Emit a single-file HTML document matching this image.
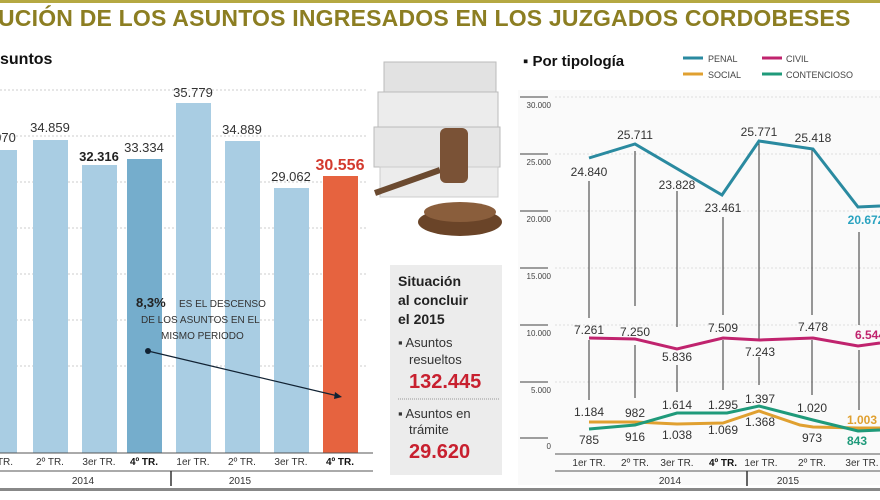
<!DOCTYPE html>
<html><head><meta charset="utf-8"><style>
body{margin:0;width:880px;height:495px;overflow:hidden;background:#fff;font-family:"Liberation Sans",sans-serif}
</style></head><body>
<svg width="880" height="495" xmlns="http://www.w3.org/2000/svg" font-family="Liberation Sans, sans-serif">
<rect x="0" y="0" width="880" height="3" fill="#b5a842"/>
<text x="-2" y="26" font-size="23" font-weight="bold" fill="#8c7e22" letter-spacing="0.2">UCIÓN DE LOS ASUNTOS INGRESADOS EN LOS JUZGADOS CORDOBESES</text>
<rect x="0" y="488" width="880" height="3" fill="#888"/>
<!-- left chart -->
<text x="0" y="64" font-size="16" font-weight="bold" fill="#111">suntos</text>
<g stroke="#ccc" stroke-dasharray="2,2" stroke-width="1">
<line x1="0" y1="90" x2="368" y2="90"/><line x1="0" y1="136" x2="368" y2="136"/><line x1="0" y1="182" x2="368" y2="182"/><line x1="0" y1="228" x2="368" y2="228"/><line x1="0" y1="274" x2="368" y2="274"/><line x1="0" y1="320" x2="368" y2="320"/><line x1="0" y1="366" x2="368" y2="366"/>
</g>
<g fill="#a9cde3">
<rect x="0" y="150" width="17" height="303"/>
<rect x="33" y="140" width="35" height="313"/>
<rect x="82" y="165" width="35" height="288"/>
<rect x="176" y="103" width="35" height="350"/>
<rect x="225" y="141" width="35" height="312"/>
<rect x="274" y="188" width="35" height="265"/>
</g>
<rect x="127" y="159" width="35" height="294" fill="#75adcc"/>
<rect x="323" y="176" width="35" height="277" fill="#e6633f"/>
<g font-size="13" fill="#333" text-anchor="middle">
<text x="5" y="142">070</text>
<text x="50" y="132">34.859</text>
<text x="99" y="161" font-weight="bold" fill="#222">32.316</text>
<text x="144" y="152">33.334</text>
<text x="193" y="97">35.779</text>
<text x="242" y="134">34.889</text>
<text x="291" y="181">29.062</text>
<text x="340" y="170" font-size="16" font-weight="bold" fill="#d33a2e">30.556</text>
</g>
<text x="136" y="307" font-size="13" font-weight="bold" fill="#222">8,3%</text>
<text x="179" y="307" font-size="10" fill="#333">ES EL DESCENSO</text>
<text x="141" y="323" font-size="10" fill="#333">DE LOS ASUNTOS EN EL</text>
<text x="161" y="339" font-size="10" fill="#333">MISMO PERIODO</text>
<circle cx="148" cy="351" r="3" fill="#123"/>
<line x1="148" y1="351" x2="338" y2="396" stroke="#123" stroke-width="1.2"/>
<polygon points="342,397 335,392 334,399" fill="#123"/>
<line x1="0" y1="453" x2="373" y2="453" stroke="#555"/>
<line x1="0" y1="471" x2="373" y2="471" stroke="#555"/>
<line x1="171" y1="471" x2="171" y2="486" stroke="#333" stroke-width="1.5"/>
<g font-size="10" fill="#333" text-anchor="middle">
<text x="5" y="465">TR.</text><text x="50" y="465">2º TR.</text><text x="99" y="465">3er TR.</text><text x="144" y="465" font-weight="bold" fill="#111">4º TR.</text>
<text x="193" y="465">1er TR.</text><text x="242" y="465">2º TR.</text><text x="291" y="465">3er TR.</text><text x="340" y="465" font-weight="bold" fill="#111">4º TR.</text>
<text x="83" y="484">2014</text><text x="240" y="484">2015</text>
</g>
<!-- image placeholder -->
<g>
<rect x="384" y="62" width="112" height="30" fill="#e2e2e2" stroke="#bbb"/>
<rect x="378" y="92" width="120" height="35" fill="#ececec" stroke="#bbb"/>
<rect x="374" y="127" width="126" height="40" fill="#e6e6e6" stroke="#bbb"/>
<rect x="380" y="167" width="118" height="30" fill="#ececec" stroke="#ccc"/>
<line x1="375" y1="193" x2="440" y2="170" stroke="#6b4a30" stroke-width="6"/>
<rect x="440" y="128" width="28" height="55" rx="6" fill="#7a5236"/>
<ellipse cx="460" cy="222" rx="42" ry="14" fill="#6a4428"/>
<ellipse cx="460" cy="212" rx="36" ry="10" fill="#8a5e3c"/>
</g>
<rect x="390" y="265" width="112" height="210" fill="#ececec"/>
<g font-size="14" font-weight="bold" fill="#222"><text x="398" y="286">Situación</text><text x="398" y="305">al concluir</text><text x="398" y="324">el 2015</text></g>
<g font-size="13" fill="#333"><text x="398" y="347">▪ Asuntos</text><text x="409" y="364">resueltos</text><text x="398" y="418">▪ Asuntos  en</text><text x="409" y="434">trámite</text></g>
<line x1="398" y1="399" x2="500" y2="399" stroke="#999" stroke-dasharray="1,1"/>
<g font-size="20" font-weight="bold" fill="#c8202f"><text x="409" y="388">132.445</text><text x="409" y="458">29.620</text></g>
<!-- right chart -->
<rect x="518" y="90" width="362" height="395" fill="#fafafa"/>
<text x="523" y="66" font-size="15" font-weight="bold" fill="#111">▪ Por tipología</text>
<g font-size="9" fill="#444">
<line x1="683" y1="58" x2="703" y2="58" stroke="#2a8aa0" stroke-width="3"/><text x="708" y="62">PENAL</text>
<line x1="762" y1="58" x2="782" y2="58" stroke="#c0236e" stroke-width="3"/><text x="786" y="62">CIVIL</text>
<line x1="683" y1="74" x2="703" y2="74" stroke="#e0a030" stroke-width="3"/><text x="708" y="78">SOCIAL</text>
<line x1="762" y1="74" x2="782" y2="74" stroke="#1f9a7a" stroke-width="3"/><text x="786" y="78">CONTENCIOSO</text>
</g>
<g font-size="8" fill="#444" text-anchor="end">
<text x="551" y="108">30.000</text><text x="551" y="165">25.000</text><text x="551" y="222">20.000</text><text x="551" y="279">15.000</text><text x="551" y="336">10.000</text><text x="551" y="393">5.000</text><text x="551" y="449">0</text>
</g>
<g stroke="#666" stroke-width="1.2">
<line x1="520" y1="97" x2="548" y2="97"/><line x1="520" y1="154" x2="548" y2="154"/><line x1="520" y1="211" x2="548" y2="211"/><line x1="520" y1="268" x2="548" y2="268"/><line x1="520" y1="325" x2="548" y2="325"/><line x1="520" y1="382" x2="548" y2="382"/><line x1="520" y1="438" x2="548" y2="438"/>
</g>
<g stroke="#ddd" stroke-dasharray="2,2">
<line x1="555" y1="97" x2="880" y2="97"/><line x1="555" y1="154" x2="880" y2="154"/><line x1="555" y1="211" x2="880" y2="211"/><line x1="555" y1="268" x2="880" y2="268"/><line x1="555" y1="325" x2="880" y2="325"/><line x1="555" y1="382" x2="880" y2="382"/>
</g>
<g stroke="#333" stroke-width="1">
<line x1="589" y1="181" x2="589" y2="318"/><line x1="589" y1="340" x2="589" y2="400"/>
<line x1="635" y1="151" x2="635" y2="306"/><line x1="635" y1="345" x2="635" y2="398"/>
<line x1="677" y1="191" x2="677" y2="327"/><line x1="677" y1="365" x2="677" y2="392"/>
<line x1="723" y1="217" x2="723" y2="315"/><line x1="723" y1="340" x2="723" y2="390"/>
<line x1="759" y1="141" x2="759" y2="340"/><line x1="759" y1="357" x2="759" y2="385"/>
<line x1="812" y1="149" x2="812" y2="315"/><line x1="812" y1="340" x2="812" y2="395"/>
<line x1="859" y1="232" x2="859" y2="325"/><line x1="859" y1="350" x2="859" y2="410"/>
</g>
<polyline points="589,158 635,144 722,195 759,141 813,149 858,207 880,206" fill="none" stroke="#2a8aa0" stroke-width="3"/>
<polyline points="589,338 635,339 677,349 723,338 760,340 813,338 858,346 880,343" fill="none" stroke="#c0236e" stroke-width="3"/>
<polyline points="589,422 635,422 677,424 723,423 759,411 800,425 813,427 858,428 880,428" fill="none" stroke="#e0a030" stroke-width="3"/>
<polyline points="589,429 635,425 677,413 727,413 759,406 813,420 858,431 880,430" fill="none" stroke="#1f9a7a" stroke-width="3"/>
<g font-size="12" fill="#333" text-anchor="middle">
<text x="589" y="176">24.840</text><text x="635" y="139">25.711</text><text x="677" y="189">23.828</text><text x="723" y="212">23.461</text><text x="759" y="136">25.771</text><text x="813" y="142">25.418</text>
<text x="866" y="224" fill="#2aa3c0" font-weight="bold">20.672</text>
<text x="589" y="334">7.261</text><text x="635" y="336">7.250</text><text x="677" y="361">5.836</text><text x="723" y="332">7.509</text><text x="760" y="356">7.243</text><text x="813" y="331">7.478</text>
<text x="870" y="339" fill="#c0236e" font-weight="bold">6.544</text>
<text x="589" y="416">1.184</text><text x="635" y="417">982</text><text x="677" y="409">1.614</text><text x="723" y="409">1.295</text><text x="760" y="403">1.397</text><text x="812" y="412">1.020</text>
<text x="862" y="424" fill="#e0a030" font-weight="bold">1.003</text>
<text x="589" y="444">785</text><text x="635" y="441">916</text><text x="677" y="439">1.038</text><text x="723" y="434">1.069</text><text x="760" y="426">1.368</text><text x="812" y="442">973</text>
<text x="857" y="445" fill="#1f9a7a" font-weight="bold">843</text>
</g>
<line x1="555" y1="454" x2="880" y2="454" stroke="#555"/>
<line x1="555" y1="471" x2="880" y2="471" stroke="#555"/>
<line x1="747" y1="471" x2="747" y2="486" stroke="#333" stroke-width="1.5"/>
<g font-size="10" fill="#333" text-anchor="middle">
<text x="589" y="466">1er TR.</text><text x="635" y="466">2º TR.</text><text x="677" y="466">3er TR.</text><text x="723" y="466" font-weight="bold" fill="#111">4º TR.</text><text x="761" y="466">1er TR.</text><text x="812" y="466">2º TR.</text><text x="862" y="466">3er TR.</text>
<text x="670" y="484">2014</text><text x="788" y="484">2015</text>
</g>
</svg>
</body></html>
